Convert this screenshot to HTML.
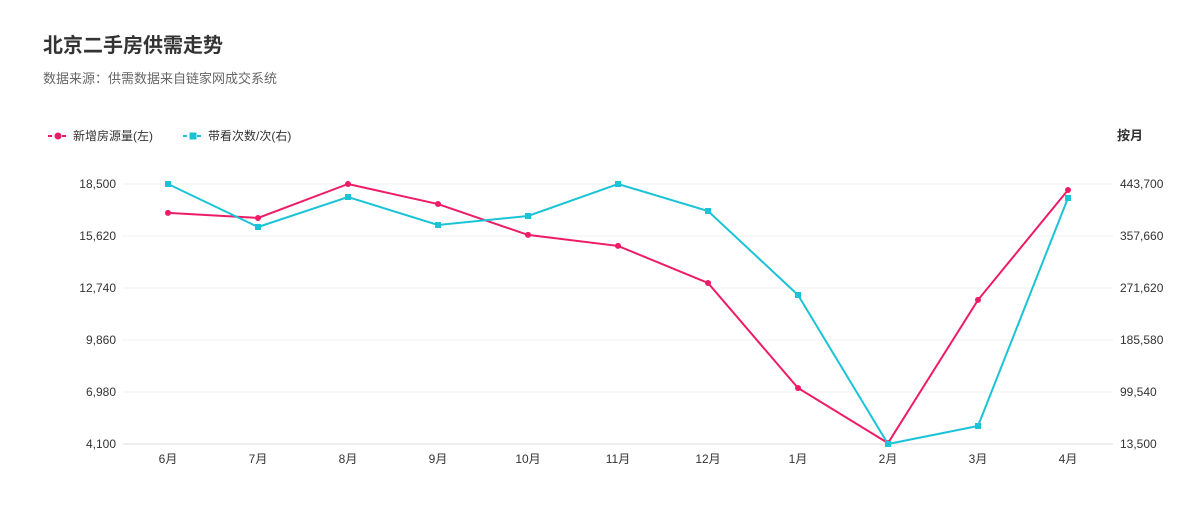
<!DOCTYPE html>
<html><head><meta charset="utf-8"><style>
body{margin:0;width:1202px;height:527px;background:#fff;font-family:"Liberation Sans","Noto Sans CJK SC",sans-serif;overflow:hidden}
</style></head><body>
<svg id="c" width="1202" height="527" xmlns="http://www.w3.org/2000/svg" font-family="Liberation Sans, Noto Sans CJK SC, sans-serif">
<text x="43" y="52" font-size="20" font-weight="bold" fill="#333">北京二手房供需走势</text>
<text x="43" y="83" font-size="13" fill="#666">数据来源：供需数据来自链家网成交系统</text>
<g>
<line x1="48" y1="136" x2="68" y2="136" stroke="#ee1b66" stroke-width="2" stroke-dasharray="4,3"/>
<circle cx="58" cy="136" r="3.5" fill="#ee1b66"/>
<text x="73" y="140" font-size="12" fill="#333">新增房源量(左)</text></g>
<g>
<line x1="183" y1="136" x2="203" y2="136" stroke="#1bc3d6" stroke-width="2" stroke-dasharray="4,3"/>
<rect x="189.5" y="132.5" width="7" height="7" fill="#1bc3d6"/>
<text x="208" y="140" font-size="12" fill="#333">带看次数/次(右)</text></g>
<text x="1143" y="140" font-size="13" font-weight="bold" fill="#333" text-anchor="end">按月</text>
<g id="grid"></g><g id="axes"></g><g id="series"></g>
</svg>
<script>
const categories=["6月","7月","8月","9月","10月","11月","12月","1月","2月","3月","4月"];
const supplyValues=[16900,16620,18500,17390,15680,15070,13020,7200,4150,12080,18170];
const viewValues=[443700,372550,422190,375860,390750,443700,399030,260040,13500,43280,420540];
const leftTicks=[4100,6980,9860,12740,15620,18500];
const rightTicks=[13500,99540,185580,271620,357660,443700];
const NS="http://www.w3.org/2000/svg";
const plotTop=184,plotBot=444,plotLeft=123,plotRight=1113;
const xs=i=>168+i*(900/(categories.length-1));
const yL=v=>plotBot-(v-4100)/(18500-4100)*(plotBot-plotTop);
const yR=v=>plotBot-(v-13500)/(443700-13500)*(plotBot-plotTop);
function mk(t,a,p){const e=document.createElementNS(NS,t);for(const k in a)e.setAttribute(k,a[k]);p.appendChild(e);return e;}
const g=document.getElementById('grid'),ax=document.getElementById('axes'),s=document.getElementById('series');
leftTicks.forEach((v,i)=>{const y=yL(v);
const l=mk('line',{x1:plotLeft,x2:plotRight,y1:y,y2:y,stroke:i==0?'#ddd':'#f0f0f0'},g);


const t=mk('text',{x:116,y:y+4,'font-size':12,fill:'#333','text-anchor':'end'},ax);t.textContent=v.toLocaleString('en-US');

});
rightTicks.forEach(v=>{const y=yR(v);
const t=mk('text',{x:1120,y:y+4,'font-size':12,fill:'#333'},ax);t.textContent=v.toLocaleString('en-US');

});
categories.forEach((c,i)=>{
const t=mk('text',{x:xs(i),y:463,'font-size':12,fill:'#333','text-anchor':'middle'},ax);t.textContent=c;

});
const p1=mk('polyline',{points:supplyValues.map((v,i)=>xs(i)+','+yL(v)).join(' '),fill:'none',stroke:'#ee1b66','stroke-width':2},s);


const p2=mk('polyline',{points:viewValues.map((v,i)=>xs(i)+','+yR(v)).join(' '),fill:'none',stroke:'#1bc3d6','stroke-width':2},s);


supplyValues.forEach((v,i)=>{const c=mk('circle',{cx:xs(i),cy:yL(v),r:3,fill:'#ee1b66'},s);

});
viewValues.forEach((v,i)=>{const r=mk('rect',{x:xs(i)-3,y:yR(v)-3,width:6,height:6,fill:'#1bc3d6'},s);

});
</script>
</body></html>
